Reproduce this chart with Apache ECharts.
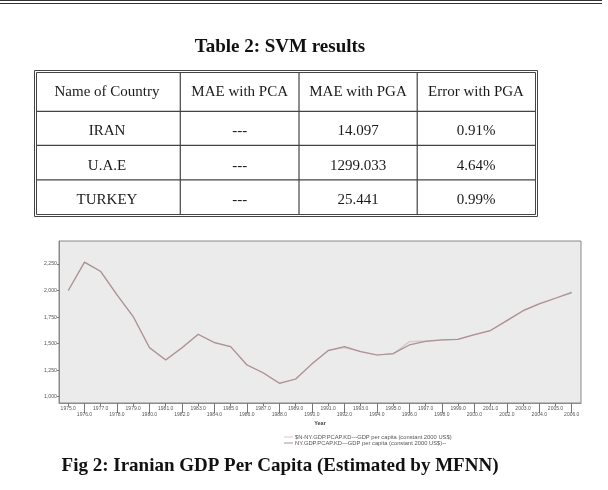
<!DOCTYPE html>
<html style="height: 100%">
<head>
<meta charset="utf-8">
</head>
<body style="height: 100%; margin: 0; background: #fff">
<div id="container" style="width: 608px; height: 490px"></div>
<script type="text/javascript" src="https://cdn.jsdelivr.net/npm/echarts@6/dist/echarts.min.js"></script>
<script type="text/javascript">
// table data
var tableTitle = 'Table 2: SVM results';
var tableHeader = ['Name of Country', 'MAE with PCA', 'MAE with PGA', 'Error with PGA'];
var tableRows = [
	['IRAN', '---', '14.097', '0.91%'],
	['U.A.E', '---', '1299.033', '4.64%'],
	['TURKEY', '---', '25.441', '0.99%']
];
var figCaption = 'Fig 2: Iranian GDP Per Capita (Estimated by MFNN)';

// chart data
var years = [1975, 1976, 1977, 1978, 1979, 1980, 1981, 1982, 1983, 1984, 1985, 1986, 1987, 1988, 1989, 1990,
	1991, 1992, 1993, 1994, 1995, 1996, 1997, 1998, 1999, 2000, 2001, 2002, 2003, 2004, 2005, 2006];
var actualGdp = [2000, 2268, 2179, 1959, 1755, 1462, 1346, 1462, 1589, 1509, 1472, 1299, 1226, 1126, 1167, 1310,
	1434, 1472, 1425, 1393, 1406, 1488, 1522, 1535, 1541, 1585, 1623, 1717, 1811, 1875, 1928, 1981];
var estimatedGdp = [2000, 2265, 2182, 1962, 1752, 1465, 1348, 1460, 1586, 1512, 1470, 1302, 1224, 1128, 1165, 1306,
	1438, 1462, 1428, 1395, 1402, 1519, 1525, 1533, 1543, 1583, 1626, 1715, 1808, 1877, 1930, 1988];
var yTicks = [1000, 1250, 1500, 1750, 2000, 2250];
var estName = '$N-NY.GDP.PCAP.KD---GDP per capita (constant 2000 US$)';
var actName = 'NY.GDP.PCAP.KD---GDP per capita (constant 2000 US$)--';

function pairs(vals) {
	return years.map(function(y, i) { return [y, vals[i]]; });
}
var evenYears = years.filter(function(y) { return y % 2 === 0; });

// table graphics
var tL = 34, tR = 537, tT = 70, tB = 216;
var colX = [180.3, 299, 417.2];
var rowY = [111.3, 145.4, 179.9];
var colC = [107, 239.7, 358, 476];
var textY = [92, 131.5, 166, 200];
var serif = '"Liberation Serif", "Times New Roman", serif';

var graphics = [];
graphics.push({ type: 'line', shape: { x1: 0, y1: 0.5, x2: 602, y2: 0.5 }, style: { stroke: '#333', lineWidth: 1 } });
graphics.push({ type: 'line', shape: { x1: 0, y1: 3.5, x2: 602, y2: 3.5 }, style: { stroke: '#333', lineWidth: 1 } });
graphics.push({ type: 'text', x: 280, y: 47, style: { text: tableTitle, font: 'bold 19px ' + serif, fill: '#111', align: 'center', verticalAlign: 'middle' } });
graphics.push({ type: 'rect', shape: { x: tL + 0.5, y: tT + 0.5, width: tR - tL, height: tB - tT }, style: { fill: 'none', stroke: '#444', lineWidth: 1 } });
graphics.push({ type: 'rect', shape: { x: tL + 2.5, y: tT + 2.5, width: tR - tL - 4, height: tB - tT - 4 }, style: { fill: 'none', stroke: '#444', lineWidth: 1 } });
colX.forEach(function(x) {
	graphics.push({ type: 'line', shape: { x1: x, y1: tT + 3, x2: x, y2: tB - 1 }, style: { stroke: '#444', lineWidth: 1.2 } });
});
rowY.forEach(function(y) {
	graphics.push({ type: 'line', shape: { x1: tL + 3, y1: y, x2: tR - 1, y2: y }, style: { stroke: '#444', lineWidth: 1.2 } });
});
[tableHeader].concat(tableRows).forEach(function(row, r) {
	row.forEach(function(cell, c) {
		graphics.push({ type: 'text', x: colC[c], y: textY[r], style: { text: cell, font: '15px ' + serif, fill: '#1a1a1a', align: 'center', verticalAlign: 'middle' } });
	});
});
graphics.push({ type: 'text', x: 280, y: 466, style: { text: figCaption, font: 'bold 19px ' + serif, fill: '#111', align: 'center', verticalAlign: 'middle' } });

var dom = document.getElementById('container');
var myChart = echarts.init(dom);
var option = {
	animation: false,
	backgroundColor: '#fff',
	graphic: graphics,
	grid: {
		left: 59, top: 241, width: 522, height: 162,
		show: true, backgroundColor: '#ebebeb', borderColor: '#8a8a8a', borderWidth: 1,
		outerBoundsMode: 'none'
	},
	legend: {
		orient: 'vertical',
		left: 284, top: 434,
		itemWidth: 9, itemHeight: 1, itemGap: 0,
		icon: 'rect',
		padding: 0,
		textStyle: { fontSize: 5.8, fontFamily: 'Liberation Sans', color: '#555', lineHeight: 5.5, padding: [0, 0, 0, -3] },
		data: [estName, actName]
	},
	xAxis: [{
		type: 'value',
		min: 1974.43, max: 2006.57,
		name: 'Year', nameLocation: 'middle', nameGap: 17,
		nameTextStyle: { fontSize: 5.5, fontWeight: 'bold', color: '#444', fontFamily: 'Liberation Sans' },
		axisLine: { show: true, lineStyle: { color: '#8a8a8a' } },
		axisTick: { show: true, length: 3, customValues: years, lineStyle: { color: '#777' } },
		axisLabel: {
			customValues: years, margin: 3, fontSize: 5, lineHeight: 5.5, color: '#555', fontFamily: 'Liberation Sans',
			formatter: function(v) { return (v % 2 === 0 ? '\n' : '') + v.toFixed(1); }
		},
		splitLine: { show: false }
	}, {
		type: 'value',
		position: 'bottom',
		min: 1974.43, max: 2006.57,
		axisLine: { show: false },
		axisTick: { show: true, length: 10, customValues: evenYears, lineStyle: { color: '#777' } },
		axisLabel: { show: false },
		splitLine: { show: false }
	}],
	yAxis: {
		type: 'value',
		min: 941, max: 2467,
		axisLine: { show: true, lineStyle: { color: '#8a8a8a' } },
		axisTick: { show: true, length: 2, customValues: yTicks, lineStyle: { color: '#777' } },
		axisLabel: {
			customValues: yTicks, margin: 2, fontSize: 5.2, color: '#555', fontFamily: 'Liberation Sans',
			formatter: function(v) { return v.toLocaleString('en-US'); }
		},
		splitLine: { show: false }
	},
	series: [{
		name: estName,
		type: 'line',
		data: pairs(estimatedGdp),
		showSymbol: false,
		color: '#cdcdcd',
		lineStyle: { width: 1.3, color: '#cdcdcd' }
	}, {
		name: actName,
		type: 'line',
		data: pairs(actualGdp),
		showSymbol: false,
		color: '#b09090',
		lineStyle: { width: 1.2, color: '#b09090' }
	}]
};
myChart.setOption(option, true);
</script>
</body>
</html>
